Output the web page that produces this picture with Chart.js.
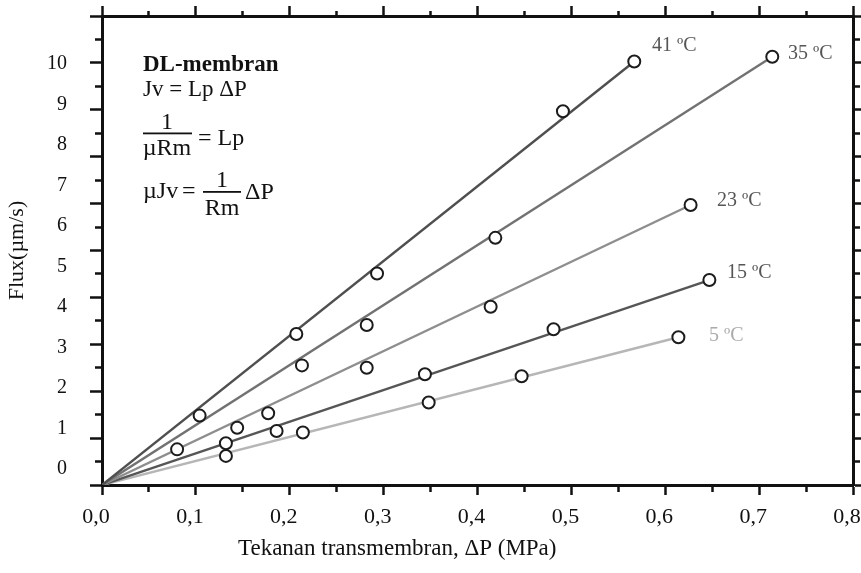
<!DOCTYPE html>
<html>
<head>
<meta charset="utf-8">
<script src="https://cdn.jsdelivr.net/npm/chart.js@4.4.1/dist/chart.umd.min.js"></script>
<style>
  body { margin: 0; background: #fff; }
  #wrap { width: 861px; height: 573px; position: relative; }
</style>
</head>
<body>
<div id="wrap"><canvas id="fluxChart"></canvas></div>
<script>
// Series names, written next to the end of each line
const seriesNames = ["41 ºC", "35 ºC", "23 ºC", "15 ºC", "5 ºC"];

// Measured points: transmembrane pressure (MPa) and flux (µm/s)
const dp41 = [0.104, 0.207, 0.293, 0.491, 0.567];
const flux41 = [1.48, 3.22, 4.51, 7.97, 9.03];
const dp35 = [0.213, 0.282, 0.419, 0.714];
const flux35 = [2.55, 3.41, 5.27, 9.13];
const dp23 = [0.080, 0.144, 0.177, 0.282, 0.414, 0.627];
const flux23 = [0.76, 1.22, 1.53, 2.50, 3.80, 5.97];
const dp15 = [0.132, 0.186, 0.344, 0.481, 0.647];
const flux15 = [0.89, 1.15, 2.36, 3.32, 4.37];
const dp5 = [0.132, 0.214, 0.348, 0.447, 0.614];
const flux5 = [0.62, 1.12, 1.76, 2.32, 3.15];

// Fitted lines start at the origin and end here
const fitEndDp = [0.567, 0.714, 0.627, 0.647, 0.614];
const fitEndFlux = [9.03, 9.13, 5.97, 4.37, 3.15];

// Tick labels
const xTickLabels = ["0,0", "0,1", "0,2", "0,3", "0,4", "0,5", "0,6", "0,7", "0,8"];
const yTickLabels = ["0", "1", "2", "3", "4", "5", "6", "7", "8", "9", "10"];

const lineColors = ["#4f4f4f", "#727272", "#8e8e8e", "#565656", "#b6b6b6"];
const labelColors = ["#555", "#555", "#555", "#555", "#aaa"];

const pointSets = [[dp41, flux41], [dp35, flux35], [dp23, flux23], [dp15, flux15], [dp5, flux5]];

const datasets = [];
pointSets.forEach(([dp, flux], s) => {
  datasets.push({
    label: seriesNames[s],
    data: dp.map((p, i) => ({ x: p, y: flux[i] })),
    showLine: false,
    pointStyle: "circle",
    pointRadius: 6,
    pointBorderWidth: 2,
    pointBorderColor: "#1c1c1c",
    pointBackgroundColor: "#fff",
    order: 0
  });
});
seriesNames.forEach((name, s) => {
  datasets.push({
    label: name + " fit",
    data: [{ x: 0, y: 0 }, { x: fitEndDp[s], y: fitEndFlux[s] }],
    showLine: true,
    borderColor: lineColors[s],
    borderWidth: 2.4,
    pointRadius: 0,
    fill: false,
    order: 1
  });
});

// tick positions: every 0.05 MPa and every 0.5 flux unit, majors every second one
function pressureTicks(axis) {
  axis.ticks = [];
  for (let i = 0; i <= 16; i++) axis.ticks.push({ value: i * 0.05 });
}
function fluxTicks(axis) {
  axis.ticks = [];
  for (let i = 0; i <= 20; i++) axis.ticks.push({ value: i * 0.5 });
}
// fix the size of an axis box and drop the label overhang padding
function fixSize(w, h) {
  return s => {
    if (w !== null) s.width = w;
    if (h !== null) s.height = h;
    s.paddingLeft = 0;
    s.paddingRight = 0;
    s.paddingTop = 0;
    s.paddingBottom = 0;
  };
}
const axisColor = "#111";

// Text drawn on the chart: equations, series names, x title
const annotations = {
  id: "annotations",
  afterDraw(chart) {
    const ctx = chart.ctx;
    ctx.save();
    ctx.fillStyle = axisColor;
    ctx.textBaseline = "alphabetic";
    ctx.textAlign = "left";
    ctx.font = 'bold 23px "Liberation Serif"';
    ctx.fillText("DL-membran", 143, 71);
    ctx.font = '23px "Liberation Serif"';
    ctx.fillText("Jv = Lp ΔP", 143, 96);

    ctx.font = '24px "Liberation Serif"';
    ctx.textAlign = "center";
    ctx.fillText("1", 167, 129);
    ctx.fillText("µRm", 167, 155);
    ctx.fillRect(143, 132.5, 49, 1.8);
    ctx.textAlign = "left";
    ctx.fillText("= Lp", 198, 145);

    ctx.fillText("µJv", 143, 198);
    ctx.fillText("=", 182, 198);
    ctx.textAlign = "center";
    ctx.fillText("1", 222, 187);
    ctx.fillText("Rm", 222, 215);
    ctx.fillRect(203, 191, 38, 1.8);
    ctx.textAlign = "left";
    ctx.fillText("ΔP", 245, 199);

    // series names
    const namePos = [[652, 46], [788, 54], [717, 201], [727, 273], [709, 336]];
    ctx.font = '20px "Liberation Serif"';
    ctx.textBaseline = "middle";
    seriesNames.forEach((name, s) => {
      ctx.fillStyle = labelColors[s];
      ctx.fillText(name, namePos[s][0], namePos[s][1]);
    });

    // x axis title
    ctx.fillStyle = axisColor;
    ctx.textBaseline = "alphabetic";
    ctx.font = '23px "Liberation Serif"';
    ctx.fillText("Tekanan transmembran, ΔP (MPa)", 238, 555);
    ctx.restore();
  }
};

Chart.defaults.font.family = '"Liberation Serif"';

new Chart(document.getElementById("fluxChart"), {
  type: "scatter",
  data: { datasets: datasets },
  plugins: [annotations],
  options: {
    responsive: true,
    maintainAspectRatio: false,
    animation: false,
    layout: { padding: 0 },
    plugins: {
      legend: { display: false },
      tooltip: { enabled: false }
    },
    scales: {
      x: {
        type: "linear",
        position: "bottom",
        min: 0,
        max: 0.8,
        afterBuildTicks: pressureTicks,
        afterFit: fixSize(null, 88),
        border: { width: 3, color: axisColor },
        grid: {
          drawOnChartArea: false,
          tickLength: 10,
          tickWidth: 2.5,
          tickColor: axisColor,
          tickBorderDash: c => (c.index % 2 ? [5, 40] : [])
        },
        ticks: {
          autoSkip: false,
          maxRotation: 0,
          padding: 9,
          labelOffset: -6,
          color: axisColor,
          font: { size: 22 },
          callback: (v, i) => (i % 2 === 0 ? xTickLabels[i / 2] : "")
        }
      },
      xTop: {
        type: "linear",
        position: "top",
        min: 0,
        max: 0.8,
        afterBuildTicks: pressureTicks,
        afterFit: fixSize(null, 16),
        border: { width: 3, color: axisColor },
        grid: {
          drawOnChartArea: false,
          tickLength: 10,
          tickWidth: 2.5,
          tickColor: axisColor,
          tickBorderDash: c => (c.index % 2 ? [0, 5, 5, 40] : [])
        },
        ticks: { display: false }
      },
      y: {
        type: "linear",
        position: "left",
        weight: 0,
        min: 0,
        max: 10,
        afterBuildTicks: fluxTicks,
        afterFit: fixSize(12, null),
        border: { width: 3, color: axisColor },
        grid: {
          drawOnChartArea: false,
          tickLength: 12,
          tickWidth: 2.5,
          tickColor: axisColor,
          tickBorderDash: c => (c.index % 2 ? [0, 5, 6, 40] : [])
        },
        ticks: { display: false }
      },
      yLab: {
        type: "linear",
        position: "left",
        weight: 10,
        min: -0.395,
        max: 11.185,
        afterBuildTicks: axis => { axis.ticks = yTickLabels.map((t, i) => ({ value: i })); },
        afterFit: fixSize(90, null),
        border: { display: false },
        grid: { display: false, drawTicks: false },
        ticks: {
          autoSkip: false,
          padding: 23,
          color: axisColor,
          font: { size: 20 },
          callback: (v, i) => yTickLabels[i]
        },
        title: {
          display: true,
          text: "Flux(µm/s)",
          color: axisColor,
          font: { size: 22 },
          padding: { top: 4, bottom: 0 }
        }
      },
      yRight: {
        type: "linear",
        position: "right",
        min: 0,
        max: 10,
        afterBuildTicks: fluxTicks,
        afterFit: fixSize(7, null),
        border: { width: 3, color: axisColor },
        grid: {
          drawOnChartArea: false,
          tickLength: 10,
          tickWidth: 2.5,
          tickColor: axisColor,
          tickBorderDash: c => (c.index % 2 ? [5, 40] : [])
        },
        ticks: { display: false }
      }
    }
  }
});
</script>
</body>
</html>
